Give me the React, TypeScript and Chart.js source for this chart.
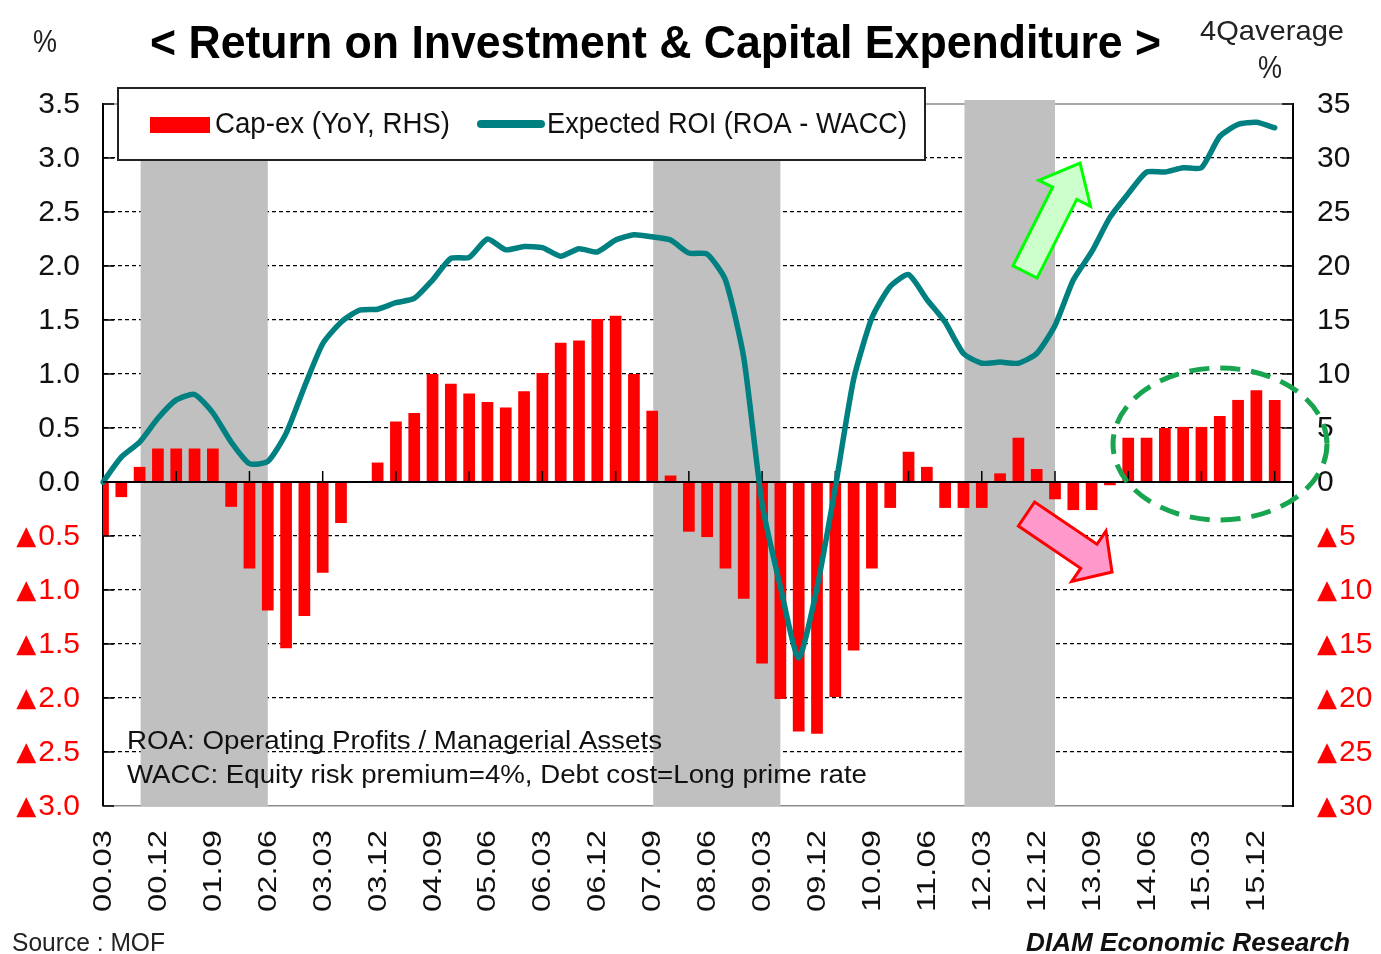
import { useEffect, useRef } from 'react';
import { Chart, registerables } from 'chart.js';

Chart.register(...registerables);

const FONT = '"Liberation Sans", Arial, "Noto Sans", sans-serif';
const TRI_FONT = '"DejaVu Sans", "Liberation Sans", sans-serif';

// quarterly categories (last one is an empty slot at the right edge)
const quarters = [
  '00.03', '00.06', '00.09', '00.12', '01.03', '01.06', '01.09', '01.12',
  '02.03', '02.06', '02.09', '02.12', '03.03', '03.06', '03.09', '03.12',
  '04.03', '04.06', '04.09', '04.12', '05.03', '05.06', '05.09', '05.12',
  '06.03', '06.06', '06.09', '06.12', '07.03', '07.06', '07.09', '07.12',
  '08.03', '08.06', '08.09', '08.12', '09.03', '09.06', '09.09', '09.12',
  '10.03', '10.06', '10.09', '10.12', '11.03', '11.06', '11.09', '11.12',
  '12.03', '12.06', '12.09', '12.12', '13.03', '13.06', '13.09', '13.12',
  '14.03', '14.06', '14.09', '14.12', '15.03', '15.06', '15.09', '15.12',
  '16.03', '16.06',
];

const xTickLabels = [
  '00.03', '00.12', '01.09', '02.06', '03.03', '03.12', '04.09', '05.06',
  '06.03', '06.12', '07.09', '08.06', '09.03', '09.12', '10.09', '11.06',
  '12.03', '12.12', '13.09', '14.06', '15.03', '15.12',
];

// Cap-ex YoY, % (right axis)
const capexYoY = [
  -5.0, -1.4, 1.4, 3.1, 3.1, 3.1, 3.1, -2.3,
  -8.0, -11.9, -15.4, -12.4, -8.4, -3.8, 0, 1.8,
  5.6, 6.4, 10.0, 9.1, 8.2, 7.4, 6.9, 8.4,
  10.1, 12.9, 13.1, 15.1, 15.4, 10.0, 6.6, 0.6,
  -4.6, -5.1, -8.0, -10.8, -16.8, -20.1, -23.1, -23.3,
  -19.9, -15.6, -8.0, -2.4, 2.8, 1.4, -2.4, -2.4,
  -2.4, 0.8, 4.1, 1.2, -1.6, -2.6, -2.6, -0.3,
  4.1, 4.1, 5.0, 5.1, 5.1, 6.1, 7.6, 8.5,
  7.6,
];

// Expected ROI (ROA - WACC), % (left axis)
const expectedROI = [
  0.0, 0.23, 0.37, 0.59, 0.76, 0.81, 0.64, 0.37,
  0.17, 0.19, 0.45, 0.88, 1.28, 1.48, 1.59, 1.60,
  1.66, 1.70, 1.87, 2.07, 2.08, 2.25, 2.15, 2.18,
  2.17, 2.09, 2.16, 2.13, 2.24, 2.29, 2.27, 2.24,
  2.12, 2.11, 1.87, 1.15, -0.2, -0.97, -1.63, -0.98,
  -0.05, 0.95, 1.52, 1.81, 1.92, 1.69, 1.48, 1.19,
  1.10, 1.11, 1.10, 1.19, 1.45, 1.87, 2.13, 2.45,
  2.67, 2.87, 2.87, 2.91, 2.91, 3.20, 3.31, 3.33,
  3.28,
];

// recession periods (shaded)
const recessions: [string, string][] = [
  ['00.09', '02.06'],
  ['07.09', '09.06'],
  ['11.12', '13.03'],
];

function drawText(
  ctx: CanvasRenderingContext2D,
  text: string,
  x: number,
  y: number,
  font: string,
  color: string,
  width?: number,
) {
  ctx.save();
  ctx.font = font;
  ctx.fillStyle = color;
  ctx.textAlign = 'left';
  ctx.textBaseline = 'alphabetic';
  const w = ctx.measureText(text).width;
  const sx = width ? width / w : 1;
  ctx.translate(x, y);
  ctx.scale(sx, 1);
  ctx.fillText(text, 0, 0);
  ctx.restore();
}

function drawArrow(
  ctx: CanvasRenderingContext2D,
  tail: [number, number],
  tip: [number, number],
  shaftW: number,
  headW: number,
  headL: number,
  fill: string,
  stroke: string,
) {
  const dx = tip[0] - tail[0];
  const dy = tip[1] - tail[1];
  const len = Math.hypot(dx, dy);
  const ux = dx / len, uy = dy / len;
  const nx = -uy, ny = ux;
  const bx = tip[0] - ux * headL, by = tip[1] - uy * headL;
  const pts: [number, number][] = [
    [tail[0] + nx * shaftW / 2, tail[1] + ny * shaftW / 2],
    [bx + nx * shaftW / 2, by + ny * shaftW / 2],
    [bx + nx * headW / 2, by + ny * headW / 2],
    [tip[0], tip[1]],
    [bx - nx * headW / 2, by - ny * headW / 2],
    [bx - nx * shaftW / 2, by - ny * shaftW / 2],
    [tail[0] - nx * shaftW / 2, tail[1] - ny * shaftW / 2],
  ];
  ctx.save();
  ctx.beginPath();
  pts.forEach((p, i) => (i ? ctx.lineTo(p[0], p[1]) : ctx.moveTo(p[0], p[1])));
  ctx.closePath();
  ctx.fillStyle = fill;
  ctx.fill();
  ctx.lineWidth = 3;
  ctx.lineJoin = 'miter';
  ctx.strokeStyle = stroke;
  ctx.stroke();
  ctx.restore();
}

// tick label with a separate, larger ▲ glyph for negative values
function drawTickLabel(
  ctx: CanvasRenderingContext2D,
  num: string,
  negative: boolean,
  x: number,
  y: number,
  align: 'left' | 'right',
) {
  ctx.save();
  ctx.textBaseline = 'middle';
  ctx.fillStyle = negative ? '#FF0000' : '#111';
  ctx.font = `30px ${FONT}`;
  const nw = ctx.measureText(num).width;
  ctx.font = `26px ${TRI_FONT}`;
  const tw = negative ? ctx.measureText('▲').width : 0;
  const gap = negative ? 2 : 0;
  const left = align === 'right' ? x - nw - gap - tw : x;
  ctx.textAlign = 'left';
  if (negative) {
    ctx.font = `26px ${TRI_FONT}`;
    ctx.fillText('▲', left, y + 1);
  }
  ctx.font = `30px ${FONT}`;
  ctx.fillText(num, left + tw + gap, y + 1);
  ctx.restore();
}

const decorations = {
  id: 'decorations',
  beforeDatasetsDraw(chart: any) {
    const { ctx, chartArea: a, scales } = chart;
    const x = scales.x;
    ctx.save();
    ctx.strokeStyle = '#8c8c8c';
    ctx.lineWidth = 1.5;
    ctx.beginPath();
    ctx.moveTo(a.left, a.top);
    ctx.lineTo(a.right, a.top);
    ctx.stroke();
    ctx.fillStyle = '#C0C0C0';
    for (const [s, e] of recessions) {
      const x0 = x.getPixelForValue(quarters.indexOf(s)) + 1;
      const x1 = x.getPixelForValue(quarters.indexOf(e));
      ctx.fillRect(x0, a.top - 4, x1 - x0, a.bottom - a.top + 4);
    }
    ctx.restore();
  },
  afterDatasetDraw(chart: any, args: any) {
    if (args.index !== 0) return;
    const { ctx, chartArea: a, scales } = chart;
    const y0 = scales.y.getPixelForValue(0);
    ctx.save();
    ctx.strokeStyle = '#000';
    ctx.lineWidth = 2;
    ctx.beginPath();
    ctx.moveTo(a.left, y0);
    ctx.lineTo(a.right, y0);
    ctx.stroke();
    ctx.lineWidth = 1.5;
    quarters.forEach((q, i) => {
      if (!q.endsWith('.03') || i === 0) return;
      const xp = scales.x.getPixelForValue(i);
      ctx.beginPath();
      ctx.moveTo(xp, y0);
      ctx.lineTo(xp, y0 - 11);
      ctx.stroke();
    });
    ctx.restore();
  },
  afterDraw(chart: any) {
    const { ctx, chartArea: a, scales } = chart;
    ctx.save();
    // inward axis ticks
    ctx.strokeStyle = '#000';
    ctx.lineWidth = 1.5;
    for (const t of scales.y.ticks) {
      const yp = scales.y.getPixelForValue(t.value);
      ctx.beginPath();
      ctx.moveTo(a.left, yp);
      ctx.lineTo(a.left + 11, yp);
      ctx.moveTo(a.right - 11, yp);
      ctx.lineTo(a.right, yp);
      ctx.stroke();
    }

    // y tick labels (from the library's scales)
    for (const t of scales.y.ticks) {
      const yp = scales.y.getPixelForValue(t.value);
      const v = t.value;
      drawTickLabel(ctx, Math.abs(v).toFixed(1), v < -1e-9, a.left - 23, yp, 'right');
    }
    for (const t of scales.y2.ticks) {
      const yp = scales.y2.getPixelForValue(t.value);
      const v = t.value;
      drawTickLabel(ctx, String(Math.round(Math.abs(v))), v < -1e-9, a.right + 24, yp, 'left');
    }

    // legend box
    ctx.fillStyle = '#fff';
    ctx.fillRect(118, 88, 807, 72);
    ctx.strokeStyle = '#222';
    ctx.lineWidth = 2;
    ctx.strokeRect(118, 88, 807, 72);
    ctx.fillStyle = '#FF0000';
    ctx.fillRect(150, 117, 60, 16);
    drawText(ctx, chart.data.datasets[0].label, 215, 133, `30px ${FONT}`, '#111', 235);
    ctx.strokeStyle = '#008080';
    ctx.lineWidth = 8;
    ctx.lineCap = 'round';
    ctx.beginPath();
    ctx.moveTo(481, 124);
    ctx.lineTo(541, 124);
    ctx.stroke();
    drawText(ctx, chart.data.datasets[1].label, 547, 133, `30px ${FONT}`, '#111', 360);

    // titles and units
    drawText(ctx, '< Return on Investment & Capital Expenditure >', 150, 58, `bold 46px ${FONT}`, '#000', 1011);
    drawText(ctx, '%', 33, 52, `32px ${FONT}`, '#222', 24);
    drawText(ctx, '4Qaverage', 1200, 40, `28px ${FONT}`, '#222', 144);
    drawText(ctx, '%', 1258, 78, `32px ${FONT}`, '#222', 24);

    // notes
    drawText(ctx, 'ROA: Operating Profits / Managerial Assets', 127, 749, `25px ${FONT}`, '#111', 535);
    drawText(ctx, 'WACC: Equity risk premium=4%, Debt cost=Long prime rate', 127, 783, `25px ${FONT}`, '#111', 740);
    drawText(ctx, 'Source : MOF', 12, 951, `26px ${FONT}`, '#222', 153);
    drawText(ctx, 'DIAM Economic Research', 1026, 951, `italic bold 26px ${FONT}`, '#111', 324);

    // x labels (rotated)
    ctx.font = `28px ${FONT}`;
    ctx.fillStyle = '#111';
    for (const lab of xTickLabels) {
      const xp = scales.x.getPixelForValue(quarters.indexOf(lab));
      const w = ctx.measureText(lab).width;
      ctx.save();
      ctx.translate(xp, 830);
      ctx.rotate(-Math.PI / 2);
      ctx.scale(82 / w, 0.92);
      ctx.textAlign = 'right';
      ctx.textBaseline = 'middle';
      ctx.fillText(lab, 0, 1);
      ctx.restore();
    }

    // annotations
    drawArrow(ctx, [1025, 272], [1080, 163], 27, 58, 34, '#CCFFCC', '#00FF00');
    drawArrow(ctx, [1026.5, 514], [1112, 572], 29, 61, 28, '#FF99CC', '#FF0000');
    ctx.beginPath();
    ctx.ellipse(1220, 444, 107, 76, 0, 0, Math.PI * 2);
    ctx.setLineDash([20, 11]);
    ctx.lineWidth = 5;
    ctx.lineCap = 'butt';
    ctx.strokeStyle = '#19A550';
    ctx.stroke();
    ctx.restore();
  },
};

const near = (a: number, b: number) => Math.abs(a - b) < 1e-9;

export default function App() {
  const ref = useRef<HTMLCanvasElement>(null);
  useEffect(() => {
    const canvas = ref.current;
    if (!canvas) return;
    const chart = new Chart(canvas, {
      type: 'bar',
      data: {
        labels: quarters,
        datasets: [
          {
            type: 'bar',
            label: 'Cap-ex (YoY, RHS)',
            data: capexYoY,
            backgroundColor: '#FF0000',
            yAxisID: 'y2',
            order: 2,
            barPercentage: 0.64,
            categoryPercentage: 1,
          },
          {
            type: 'line',
            label: 'Expected ROI (ROA - WACC)',
            data: expectedROI,
            borderColor: '#008080',
            borderWidth: 5.5,
            pointRadius: 0,
            tension: 0.2,
            yAxisID: 'y',
            order: 1,
            borderCapStyle: 'round',
            borderJoinStyle: 'round',
          },
        ],
      } as any,
      options: {
        responsive: false,
        animation: false,
        layout: { padding: { top: 104, left: 0, right: 0, bottom: 0 } },
        plugins: {
          legend: { display: false },
          tooltip: { enabled: false },
        },
        scales: {
          x: {
            type: 'category',
            offset: false,
            grid: { display: false },
            ticks: { display: false },
            border: { display: true, color: '#8c8c8c', width: 1.5 },
            afterFit: (s: any) => { s.height = 148; },
          },
          y: {
            position: 'left',
            min: -3,
            max: 3.5,
            ticks: { stepSize: 0.5, display: false },
            grid: {
              drawTicks: false,
              lineWidth: 1.2,
              color: (c: any) => {
                const v = c.tick ? c.tick.value : 0;
                return near(v, 0) || near(v, 3.5) || near(v, -3) ? 'rgba(0,0,0,0)' : '#000';
              },
            },
            border: { display: true, color: '#000', width: 2, dash: [4, 3] },
            afterFit: (s: any) => { s.width = 103; },
          },
          y2: {
            position: 'right',
            min: -30,
            max: 35,
            ticks: { stepSize: 5, display: false },
            grid: { display: false, drawTicks: false },
            border: { display: true, color: '#000', width: 2 },
            afterFit: (s: any) => { s.width = 88; },
          },
        },
      } as any,
      plugins: [decorations],
    });
    return () => chart.destroy();
  }, []);

  return (
    <div style={{ position: 'absolute', left: 0, top: 0, width: 1381, height: 954, background: '#fff' }}>
      <canvas ref={ref} width={1381} height={954} style={{ display: 'block' }} />
    </div>
  );
}
